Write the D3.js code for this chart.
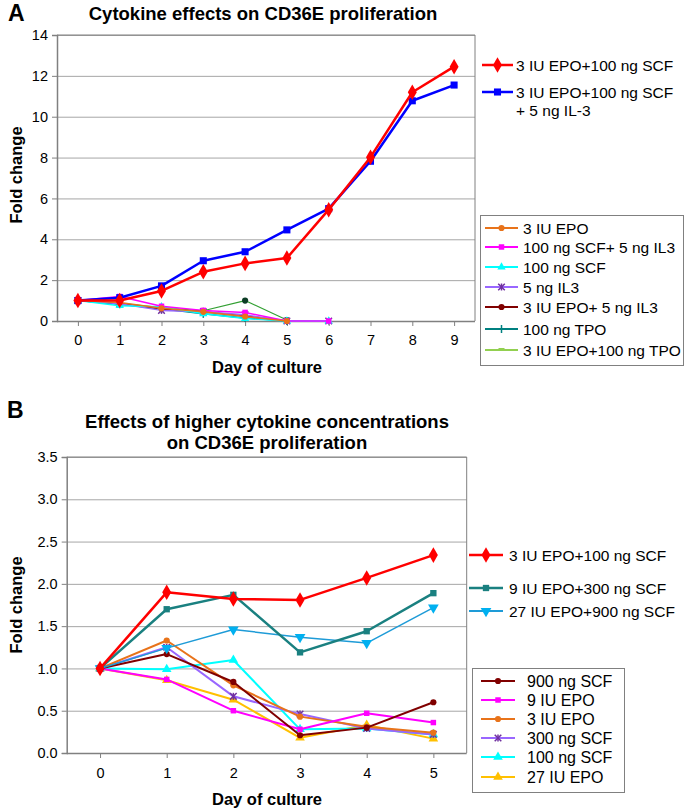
<!DOCTYPE html>
<html><head><meta charset="utf-8">
<script src="https://cdn.jsdelivr.net/npm/d3@7"></script>
<style>
body{margin:0;background:#fff;}
text{font-family:Arial,"Liberation Sans",sans-serif;}
</style></head>
<body><svg id="c" width="689" height="812"></svg>
<script>
// ---------- DATA: panel A ----------
const daysA = [0,1,2,3,4,5,6,7,8,9];
const yTicksA = [0,2,4,6,8,10,12,14];
const namesA = ["3 IU EPO+100 ng SCF","3 IU EPO+100 ng SCF + 5 ng IL-3","3 IU EPO","100 ng SCF+ 5 ng IL3","100 ng SCF","5 ng IL3","3 IU EPO+ 5 ng IL3","100 ng TPO","3 IU EPO+100 ng TPO"];
const aEpoScf     = [1.0,1.0,1.47,2.41,2.82,3.08,5.45,8.02,11.2,12.45];
const aEpoScfIl3  = [1.0,1.14,1.72,2.95,3.39,4.46,5.5,7.82,10.78,11.55];
const aEpo        = [1.0,0.9,0.62,0.45,0.22,0.0];
const aScfIl3     = [1.0,1.2,0.72,0.52,0.42,0.0,0.0];
const aScf        = [1.0,0.75,0.7,0.35,0.12,0.0,0.0];
const aIl3        = [1.0,0.85,0.52,0.45,0.3,0.0,0.0];
const aEpoIl3     = [1.0,0.85,0.6,0.45,0.25,0.0];
const aTpo        = [1.0,0.82,0.6,0.35,0.15,0.0];
const aEpoTpo     = [1.0,0.87,0.66,0.5,1.0,0.05];

// ---------- DATA: panel B ----------
const daysB = [0,1,2,3,4,5];
const yTicksB = [0,0.5,1,1.5,2,2.5,3,3.5];
const namesB = ["3 IU EPO+100 ng SCF","9 IU EPO+300 ng SCF","27 IU EPO+900 ng SCF","900 ng SCF","9 IU EPO","3 IU EPO","300 ng SCF","100 ng SCF","27 IU EPO"];
const bEpo3Scf100   = [1.0,1.9,1.82,1.81,2.07,2.34];
const bEpo9Scf300   = [1.0,1.7,1.87,1.19,1.44,1.89];
const bEpo27Scf900  = [1.0,1.24,1.46,1.37,1.3,1.72];
const bScf900       = [1.0,1.17,0.84,0.21,0.3,0.6];
const bEpo9         = [1.0,0.87,0.5,0.28,0.47,0.36];
const bEpo3         = [1.0,1.33,0.8,0.43,0.31,0.24];
const bScf300       = [1.0,1.25,0.67,0.46,0.29,0.22];
const bScf100       = [1.0,0.99,1.1,0.28,0.29,0.22];
const bEpo27        = [1.0,0.86,0.63,0.18,0.33,0.17];

// ---------- STYLES ----------
const stylesA = [
 {c:"#ff0000",m:"diamond",w:2.5,s:70},
 {c:"#0000ff",m:"square",w:2.5,s:50},
 {c:"#e8731a",m:"circle",w:1.5,s:30},
 {c:"#ff00ff",m:"square",w:1.5,s:30},
 {c:"#00ffff",m:"triangle",w:1.5,s:30},
 {c:"#9966ff",m:"x",w:1.5,s:30,mc:"#7030a0"},
 {c:"#800000",m:"circle",w:1.5,s:30},
 {c:"#008080",m:"plus",w:1.5,s:30},
 {c:"#33a033",m:"circle",w:1.2,s:30,mc:"#0d3d26",lc:"#92d050"}
];
const stylesB = [
 {c:"#ff0000",m:"diamond",w:2.5,s:70},
 {c:"#1a8080",m:"square",w:2.5,s:40},
 {c:"#1e9bd7",m:"tridown",w:1.5,s:50,mc:"#00b0f0"},
 {c:"#800000",m:"circle",w:2,s:30},
 {c:"#ff00ff",m:"square",w:2,s:30},
 {c:"#e8731a",m:"circle",w:2,s:30},
 {c:"#9966ff",m:"x",w:2,s:30,mc:"#7030a0"},
 {c:"#00ffff",m:"triangle",w:2,s:40},
 {c:"#ffc000",m:"triangle",w:2,s:40}
];

const svg = d3.select("#c");
const gridCol = "#a6a6a6", axCol = "#808080";
const FF = 'Arial,"Liberation Sans",sans-serif';

function symPath(m, s){
  const t = {diamond:d3.symbolDiamond,square:d3.symbolSquare,circle:d3.symbolCircle,
    triangle:d3.symbolTriangle,tridown:d3.symbolTriangle,x:d3.symbolX,plus:d3.symbolCross}[m];
  return d3.symbol().type(t).size(s)();
}
function drawMarker(g, x, y, st){
  const col = st.mc || st.c;
  if (st.m === "x"){
    g.append("path").attr("d", d3.symbol().type(d3.symbolX).size(st.s)()).attr("transform",`translate(${x},${y})`)
      .attr("stroke",col).attr("stroke-width",1.5).attr("fill","none");
    g.append("line").attr("x1",x).attr("x2",x).attr("y1",y-3.5).attr("y2",y+3.5).attr("stroke",col).attr("stroke-width",1.5);
  } else if (st.m === "plus"){
    g.append("line").attr("x1",x).attr("x2",x).attr("y1",y-4).attr("y2",y+4).attr("stroke",col).attr("stroke-width",1.5);
  } else {
    g.append("path").attr("d", symPath(st.m, st.s))
      .attr("transform",`translate(${x},${y})` + (st.m==="tridown"?" rotate(180)":""))
      .attr("fill",col);
  }
}

function panel(cfg){
  const {x, y, days, series, styles, yTicks, fmt, order} = cfg;
  const g = svg.append("g");
  const [x0,x1] = x.range(), [yb,yt] = y.range();
  g.append("g").attr("transform",`translate(${x0},0)`)
    .call(d3.axisLeft(y).tickValues(yTicks.slice(1)).tickSize(-(x1-x0)).tickFormat(""))
    .call(a=>{a.select(".domain").remove(); a.selectAll("line").attr("stroke",gridCol).attr("stroke-width",1);});
  g.append("path").attr("d",`M${x0},${yt}H${x1}V${yb}`).attr("fill","none").attr("stroke",axCol).attr("stroke-width",1);
  g.append("g").attr("transform",`translate(${x0},0)`)
    .call(d3.axisLeft(y).tickValues(yTicks).tickSize(5).tickPadding(4).tickFormat(fmt))
    .call(a=>{a.select(".domain").attr("stroke",axCol).attr("stroke-width",1.5); a.selectAll("line").attr("stroke",axCol);
      a.selectAll("text").attr("font-size",14.5).attr("fill","#000").attr("font-family",FF);});
  g.append("g").attr("transform",`translate(0,${yb})`)
    .call(d3.axisBottom(x).tickValues(days).tickSize(5).tickPadding(cfg.xPad).tickFormat(d3.format("d")))
    .call(a=>{a.select(".domain").attr("d",`M${x0},0.5H${x1}`).attr("stroke",axCol).attr("stroke-width",1.5); a.selectAll("line").attr("stroke",axCol);
      a.selectAll("text").attr("font-size",14.5).attr("fill","#000").attr("font-family",FF);});
  const line = d3.line().x((d,i)=>x(days[i])).y(d=>y(d));
  order.forEach(k=>{
    const st = styles[k], vals = series[k];
    g.append("path").attr("d",line(vals)).attr("fill","none").attr("stroke",st.c).attr("stroke-width",st.w).attr("stroke-linejoin","round");
    vals.forEach((v,i)=>drawMarker(g, x(days[i]), y(v), st));
  });
  return g;
}

// ---------- Panel A ----------
const xA = d3.scaleLinear().domain([-0.5,9.5]).range([57,475]);
const yA = d3.scaleLinear().domain([0,14]).range([321,35]);
const seriesA = [aEpoScf,aEpoScfIl3,aEpo,aScfIl3,aScf,aIl3,aEpoIl3,aTpo,aEpoTpo];
panel({x:xA,y:yA,days:daysA,series:seriesA,styles:stylesA,yTicks:yTicksA,fmt:d3.format("d"),xPad:9,order:[8,7,6,5,4,3,2,1,0]});

// ---------- Panel B ----------
const xB = d3.scaleLinear().domain([-0.5,5.5]).range([66.7,466.7]);
const yB = d3.scaleLinear().domain([0,3.5]).range([753,457]);
const seriesB = [bEpo3Scf100,bEpo9Scf300,bEpo27Scf900,bScf900,bEpo9,bEpo3,bScf300,bScf100,bEpo27];
panel({x:xB,y:yB,days:daysB,series:seriesB,styles:stylesB,yTicks:yTicksB,fmt:d3.format(".1f"),xPad:10,order:[8,7,6,5,4,3,2,1,0]});

// ---------- Texts ----------
function txt(x,y,s,opt={}){
  const t = svg.append("text").attr("x",x).attr("y",y).text(s)
    .attr("font-size",opt.size||14).attr("font-weight",opt.bold?"bold":"normal")
    .attr("text-anchor",opt.anchor||"start").attr("fill","#000");
  if(opt.rot) t.attr("transform",`rotate(-90,${x},${y})`);
  return t;
}
txt(8,21,"A",{size:23,bold:true});
txt(263,20,"Cytokine effects on CD36E proliferation",{size:18.5,bold:true,anchor:"middle"});
txt(22,175,"Fold change",{size:16.5,bold:true,anchor:"middle",rot:true});
txt(267,373,"Day of culture",{size:16.5,bold:true,anchor:"middle"});

txt(7,418,"B",{size:23,bold:true});
txt(267,428,"Effects of higher cytokine concentrations",{size:18.5,bold:true,anchor:"middle"});
txt(267,449,"on CD36E proliferation",{size:18.5,bold:true,anchor:"middle"});
txt(22,605,"Fold change",{size:16.5,bold:true,anchor:"middle",rot:true});
txt(267,805,"Day of culture",{size:16.5,bold:true,anchor:"middle"});

// ---------- Legends ----------
function legendEntry(x0,x1,y,st,label,tx,fs){
  const g = svg.append("g");
  g.append("line").attr("x1",x0).attr("x2",x1).attr("y1",y).attr("y2",y).attr("stroke",st.lc||st.c).attr("stroke-width",Math.max(st.w,2));
  if(!st.lc) drawMarker(g,(x0+x1)/2,y,st);
  else g.append("rect").attr("x",(x0+x1)/2-3).attr("y",y-2).attr("width",6).attr("height",2.5).attr("fill",st.lc);
  txt(tx,y+5.5,label,{size:fs});
}
legendEntry(482,513,65,stylesA[0],"3 IU EPO+100 ng SCF",516,15.5);
legendEntry(482,513,92,stylesA[1],"3 IU EPO+100 ng SCF",516,15.5);
txt(516,116,"+ 5 ng IL-3",{size:15.5});
svg.append("rect").attr("x",480.5).attr("y",215.5).attr("width",203).attr("height",150).attr("fill","none").attr("stroke","#808080");
const ysA = [228,247,267,287,307,329,350];
for(let i=2;i<9;i++) legendEntry(485,518,ysA[i-2],stylesA[i],namesA[i],523,15.5);
const ysB1 = [555,588,611];
for(let i=0;i<3;i++) legendEntry(469,503,ysB1[i],stylesB[i],namesB[i],509,15.5);
svg.append("rect").attr("x",472.5).attr("y",668.5).attr("width",152).attr("height",124).attr("fill","none").attr("stroke","#808080");
const ysB2 = [681,700,719,738,757,777];
for(let i=3;i<9;i++) legendEntry(481,515,ysB2[i-3],stylesB[i],namesB[i],527,16);
</script></body></html>
